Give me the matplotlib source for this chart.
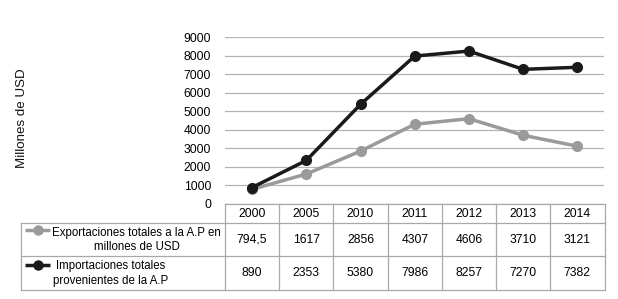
import matplotlib
matplotlib.use("Agg")
import matplotlib.pyplot as plt

plt.rcParams['font.family'] = ['Liberation Sans', 'DejaVu Sans']

years = ["2000", "2005", "2010", "2011", "2012", "2013", "2014"]
exports = [794.5, 1617, 2856, 4307, 4606, 3710, 3121]
imports = [890, 2353, 5380, 7986, 8257, 7270, 7382]
export_labels = ["794,5", "1617", "2856", "4307", "4606", "3710", "3121"]
import_labels = ["890", "2353", "5380", "7986", "8257", "7270", "7382"]
yticks = [0, 1000, 2000, 3000, 4000, 5000, 6000, 7000, 8000, 9000]

W, H = 618, 299
grey = "#9a9a9a"
black = "#1a1a1a"
border = "#a8a8a8"
fs = 8.7

fig = plt.figure(figsize=(W / 100, H / 100), dpi=100)

# plot area in pixels
x0, x1 = 225, 604.5
y_top, y_bot = 37.3, 204

ax = fig.add_axes([x0 / W, 1 - y_bot / H, (x1 - x0) / W, (y_bot - y_top) / H])
xs = list(range(len(years)))
ax.plot(xs, exports, color=grey, lw=2.5, marker="o", ms=7, zorder=3)
ax.plot(xs, imports, color=black, lw=2.5, marker="o", ms=7, zorder=4)
ax.set_xlim(-0.5, len(years) - 0.5)
ax.set_ylim(0, 9000)
ax.set_yticks(yticks)
ax.set_yticklabels([str(v) for v in yticks], fontsize=fs)
ax.set_xticks([])
ax.tick_params(axis="y", length=0, pad=10)
for s in ax.spines.values():
    s.set_visible(False)
ax.grid(axis="y", color="#b4b4b4", lw=0.9)
ax.set_axisbelow(True)

fig.text(22 / W, 1 - 118 / H, "Millones de USD", rotation=90, fontsize=9.6,
         ha="center", va="center", color="#111111")

# table drawn in pixel coordinates
tax = fig.add_axes([0, 0, 1, 1])
tax.set_xlim(0, W)
tax.set_ylim(H, 0)
tax.axis("off")

col_w = (x1 - x0) / len(years)
left = 20.5
r0, r1, r2, r3 = 204.3, 222.5, 255.5, 289.5
lw = 0.9
tax.plot([x0, x1], [r0, r0], color=border, lw=lw)
tax.plot([left, x1], [r1, r1], color=border, lw=lw)
tax.plot([left, x1], [r2, r2], color=border, lw=lw)
tax.plot([left, x1], [r3, r3], color=border, lw=lw)
tax.plot([left, left], [r1, r3], color=border, lw=lw)
for i in range(len(years) + 1):
    xb = x0 + i * col_w
    tax.plot([xb, xb], [r0, r3], color=border, lw=lw)

for i, y in enumerate(years):
    xc = x0 + (i + 0.5) * col_w
    tax.text(xc, (r0 + r1) / 2 + 1, y, fontsize=fs, ha="center", va="center")
    tax.text(xc, (r1 + r2) / 2 + 1, export_labels[i], fontsize=fs, ha="center", va="center")
    tax.text(xc, (r2 + r3) / 2 + 1, import_labels[i], fontsize=fs, ha="center", va="center")

# row labels with legend keys
tax.plot([25, 37.5, 50], [230, 230, 230], color=grey, lw=2.5, marker="o", ms=6.5,
         markevery=[1], solid_capstyle="butt")
tax.plot([25, 37.5, 50], [265, 265, 265], color=black, lw=2.5, marker="o", ms=6.5,
         markevery=[1], solid_capstyle="butt")
tax.text(136.5, (r1 + r2) / 2 + 1, "Exportaciones totales a la A.P en\nmillones de USD",
         fontsize=8.3, ha="center", va="center", linespacing=1.3)
tax.text(111, (r2 + r3) / 2 + 1, "Importaciones totales\nprovenientes de la A.P",
         fontsize=8.3, ha="center", va="center", linespacing=1.3)

fig.savefig("out.png", dpi=100)
